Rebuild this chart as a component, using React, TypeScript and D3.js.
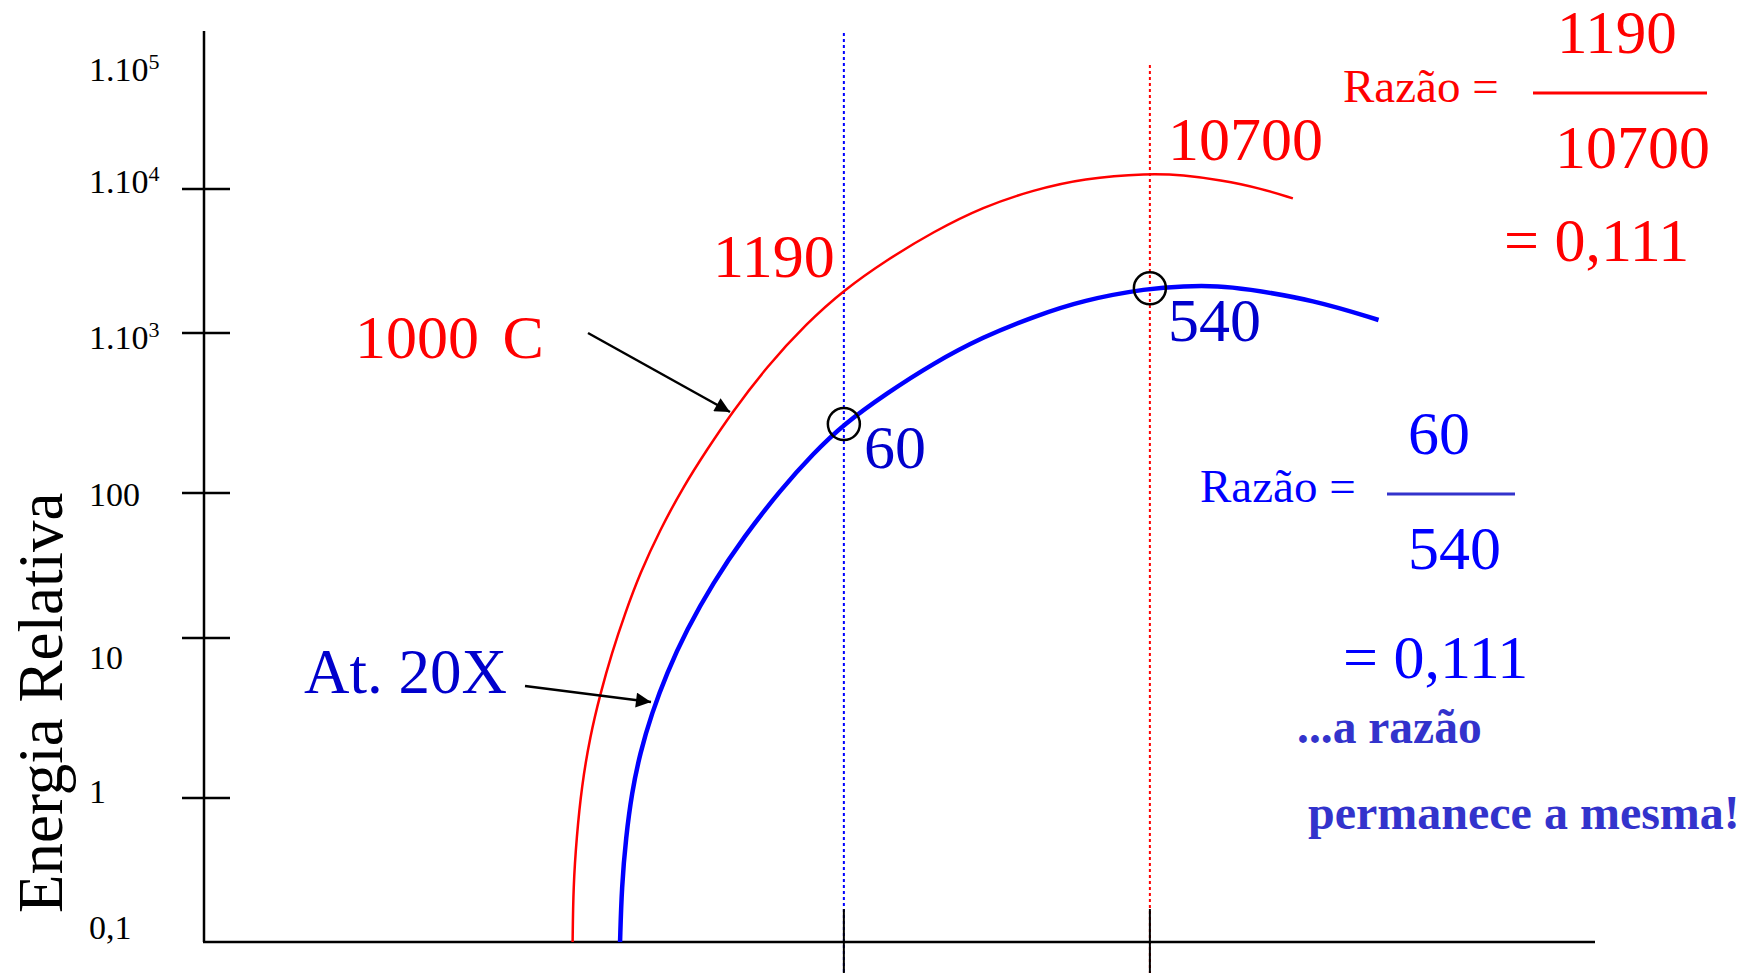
import React from "react";
import * as d3 from "d3";

// ---- data ----
const tickValues = [0.1, 1, 10, 100, 1000, 10000, 100000];
const tickLabelBase = ["0,1", "1", "10", "100", "1.10", "1.10", "1.10"];
const tickLabelSup = ["", "", "", "", "3", "4", "5"];
const tickMarked = [false, true, true, true, true, true, false];

// curve "1000 C" (red)
const redX = [26.5, 26.55, 26.79, 27.15, 27.75, 28.5, 29.31, 30.27, 31.34, 32.78, 34.46, 36.14, 37.91, 40.45, 43.33, 46.01, 49.08, 52.43, 56.02, 59.62, 63.21, 67.89, 70.4, 73.04, 75.97, 78.28];
const redY = [0.1, 0.242, 0.538, 1.18, 2.42, 4.51, 8.02, 14.8, 27.9, 55.6, 109.5, 185.6, 315, 615, 1168, 1990, 3214, 5050, 7530, 9840, 11870, 12850, 12510, 11550, 10110, 8610];

// curve "At. 20X" (blue)
const blueX = [29.91, 30.03, 30.34, 30.75, 31.34, 32.19, 33.26, 34.7, 36.57, 38.82, 41.44, 43.81, 46.01, 49.08, 52.43, 56.02, 59.62, 63.21, 67.89, 70.4, 73.04, 74.69, 79.8, 84.44];
const blueY = [0.1, 0.242, 0.538, 1.07, 1.9, 3.38, 6.01, 11.4, 23.8, 50.0, 104.4, 177, 270, 420, 647, 948, 1297, 1695, 2044, 2120, 2120, 2044, 1695, 1231];

// marked positions
const markerX = [46, 68];
const markerY = [270, 2044];

const FONT = "'Liberation Serif', 'Times New Roman', serif";

export default function App() {
  const W = 1750;
  const H = 973;
  const x = d3.scaleLinear().domain([0, 100]).range([204, 1595]);
  const y = d3
    .scaleLog()
    .domain([0.1, 1, 10, 100, 1000, 10000, 100000])
    .range([942, 798, 638, 493, 333, 189, 45]);

  const line = d3
    .line<[number, number]>()
    .x((d) => x(d[0]))
    .y((d) => y(d[1]))
    .curve(d3.curveBasis);

  const redPts = redX.map((v, i) => [v, redY[i]] as [number, number]);
  const bluePts = blueX.map((v, i) => [v, blueY[i]] as [number, number]);

  const labelNudge = [-3, 5, 31, 13, 16, 4, 36];
  const axisX = x(0);
  const axisY = y(0.1);
  const markerTop = [33, 65];
  const markerColor = ["#0000ff", "#ff0000"];

  return (
    <svg
      width={W}
      height={H}
      style={{ position: "absolute", left: 0, top: 0, display: "block", background: "#fff" }}
      fontFamily={FONT}
    >
      <defs>
        <marker id="ah" viewBox="0 0 10 10" refX="10" refY="5" markerWidth="7" markerHeight="6" orient="auto" markerUnits="strokeWidth">
          <path d="M0,0 L10,5 L0,10 z" fill="#000" />
        </marker>
      </defs>
      <rect x={0} y={0} width={W} height={H} fill="#fff" />

      {/* dotted verticals */}
      {markerX.map((m, i) => (
        <line
          key={"v" + i}
          x1={x(m)}
          x2={x(m)}
          y1={markerTop[i]}
          y2={H}
          stroke={markerColor[i]}
          strokeWidth={2}
          strokeDasharray="3 3"
        />
      ))}

      {/* x ticks */}
      {markerX.map((m, i) => (
        <line key={"xt" + i} x1={x(m)} x2={x(m)} y1={909} y2={H} stroke="#000" strokeWidth={2} />
      ))}

      {/* axes */}
      <line x1={axisX} x2={axisX} y1={31} y2={axisY} stroke="#000" strokeWidth={2.5} />
      <line x1={axisX - 1} x2={x(100)} y1={axisY} y2={axisY} stroke="#000" strokeWidth={2.5} />
      {tickValues.map((t, i) =>
        tickMarked[i] ? (
          <line key={"t" + i} x1={182} x2={230} y1={y(t)} y2={y(t)} stroke="#000" strokeWidth={2.5} />
        ) : null
      )}
      {tickValues.map((t, i) => (
        <text key={"tl" + i} x={89} y={y(t) + labelNudge[i]} fontSize={34} fill="#000">
          {tickLabelBase[i]}
          {tickLabelSup[i] ? (
            <tspan dy={-12} fontSize={22}>
              {tickLabelSup[i]}
            </tspan>
          ) : null}
        </text>
      ))}

      <text transform="translate(62,913) rotate(-90)" fontSize={63} fill="#000">
        Energia Relativa
      </text>

      {/* curves */}
      <path d={line(redPts) || ""} fill="none" stroke="#ff0000" strokeWidth={2.5} />
      <path d={line(bluePts) || ""} fill="none" stroke="#0000ff" strokeWidth={4.5} />

      {markerX.map((m, i) => (
        <circle key={"c" + i} cx={x(m)} cy={y(markerY[i])} r={16} fill="none" stroke="#000" strokeWidth={2.5} />
      ))}

      {/* arrows */}
      <line x1={588} y1={333} x2={730} y2={412} stroke="#000" strokeWidth={2.5} markerEnd="url(#ah)" />
      <line x1={525} y1={686} x2={651} y2={702} stroke="#000" strokeWidth={2.5} markerEnd="url(#ah)" />

      {/* curve annotations */}
      <text x={713} y={277} fontSize={62} fill="#ff0000">1190</text>
      <text x={1168} y={160} fontSize={62} fill="#ff0000">10700</text>
      <text x={355} y={358} fontSize={62} fill="#ff0000">
        1000<tspan dx={8}> C</tspan>
      </text>
      <text x={864} y={468} fontSize={62} fill="#0000cc">60</text>
      <text x={1168} y={341} fontSize={62} fill="#0000cc">540</text>
      <text x={304} y={693} fontSize={63} fill="#0000cc">At. 20X</text>

      {/* red ratio */}
      <text x={1343} y={102} fontSize={47} fill="#ff0000">Razão =</text>
      <text x={1557} y={53} fontSize={61} fill="#ff0000">1190</text>
      <line x1={1533} x2={1707} y1={93} y2={93} stroke="#ff0000" strokeWidth={3} />
      <text x={1555} y={168} fontSize={62} fill="#ff0000">10700</text>
      <text x={1504} y={261} fontSize={62} fill="#ff0000">= 0,111</text>

      {/* blue ratio */}
      <text x={1200} y={502} fontSize={47} fill="#0000ff">Razão =</text>
      <text x={1408} y={454} fontSize={62} fill="#0000ff">60</text>
      <line x1={1387} x2={1515} y1={494} y2={494} stroke="#3333cc" strokeWidth={3} />
      <text x={1408} y={569} fontSize={62} fill="#0000ff">540</text>
      <text x={1343} y={678} fontSize={62} fill="#0000ff">= 0,111</text>

      <text x={1297} y={743} fontSize={47.5} fontWeight="bold" fill="#3333cc">...a razão</text>
      <text x={1308} y={829} fontSize={48} fontWeight="bold" fill="#3333cc">permanece a mesma!</text>
    </svg>
  );
}
